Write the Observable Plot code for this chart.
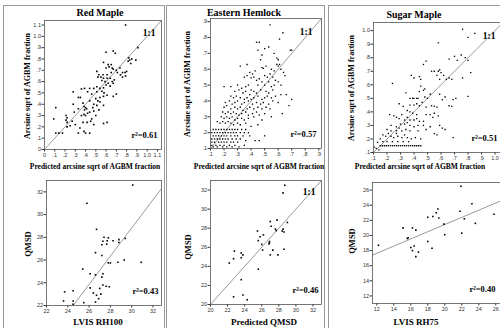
<!DOCTYPE html>
<html><head><meta charset="utf-8">
<script src="https://cdn.jsdelivr.net/npm/d3@7"></script>
<script src="https://cdn.jsdelivr.net/npm/@observablehq/plot@0.6"></script>
<style>
body{margin:0;background:#fff;}
#root{position:relative;width:500px;height:328px;overflow:hidden;background:#fff;font-family:"Liberation Serif","Times New Roman",serif;}
.frame{position:absolute;border:1px solid #999;border-bottom:none;}
.t{position:absolute;font-weight:bold;white-space:nowrap;color:#000;line-height:1;}
svg{position:absolute;overflow:visible;}
</style></head><body><div id="root"></div>
<script>
// ---------- data ----------
const redMaple = [[0.79,1.10],[0.91,0.90],[0.60,0.86],[0.67,0.87],[0.69,0.85],[0.82,0.81],[0.83,0.79],[0.85,0.80],[0.815,0.78],[0.89,0.79],[0.84,0.76],
[0.575,0.77],[0.62,0.75],[0.65,0.75],[0.63,0.73],[0.66,0.72],[0.60,0.72],
[0.51,0.69],[0.53,0.66],[0.57,0.66],[0.61,0.66],[0.65,0.68],[0.67,0.71],[0.70,0.70],[0.71,0.68],[0.735,0.72],[0.76,0.68],[0.785,0.68],[0.76,0.64],[0.74,0.66],[0.80,0.69],[0.79,0.65],
[0.52,0.64],[0.55,0.64],[0.575,0.63],[0.61,0.63],[0.64,0.63],[0.68,0.615],[0.66,0.60],[0.59,0.60],[0.56,0.61],
[0.48,0.54],[0.51,0.555],[0.54,0.54],[0.575,0.545],[0.62,0.585],[0.64,0.56],[0.67,0.585],[0.60,0.57],
[0.44,0.54],[0.42,0.51],[0.46,0.49],[0.51,0.51],[0.56,0.515],[0.61,0.48],[0.67,0.47],[0.70,0.49],[0.58,0.50],
[0.28,0.51],[0.36,0.535],[0.33,0.46],[0.35,0.46],[0.39,0.54],
[0.50,0.45],[0.54,0.46],[0.575,0.47],[0.52,0.43],
[0.375,0.41],[0.44,0.43],[0.48,0.40],[0.51,0.39],[0.54,0.42],[0.575,0.39],[0.47,0.37],
[0.385,0.38],[0.40,0.37],[0.41,0.36],[0.39,0.35],
[0.11,0.37],[0.33,0.36],[0.29,0.33],[0.36,0.30],[0.385,0.31],[0.40,0.30],[0.44,0.33],[0.48,0.34],[0.50,0.30],[0.42,0.32],
[0.21,0.30],[0.22,0.28],[0.28,0.40],
[0.27,0.25],[0.375,0.24],[0.415,0.24],[0.45,0.25],[0.48,0.22],[0.575,0.23],[0.61,0.24],
[0.09,0.27],[0.21,0.26],[0.22,0.24],[0.25,0.21],
[0.345,0.19],[0.385,0.16],[0.33,0.145],
[0.11,0.145],[0.14,0.145],[0.175,0.145],[0.40,0.145],[0.44,0.145],
[0.22,0.20],[0.30,0.22],[0.46,0.27],[0.53,0.35]];

const easternHemlock = [[0.54,0.88],[0.635,0.83],[0.61,0.79],[0.44,0.77],[0.46,0.77],[0.69,0.72],[0.70,0.72],[0.50,0.73],[0.53,0.74],[0.57,0.70],[0.45,0.72],[0.48,0.69],[0.47,0.66],[0.59,0.67],[0.60,0.66],
[0.60,0.62],[0.59,0.63],[0.61,0.63],[0.62,0.60],[0.37,0.63],[0.32,0.62],[0.48,0.61],[0.49,0.605],[0.51,0.62],[0.55,0.60],[0.57,0.59],[0.64,0.58],[0.65,0.56],
[0.39,0.58],[0.41,0.57],[0.43,0.59],[0.37,0.56],[0.40,0.545],[0.42,0.55],[0.35,0.55],[0.44,0.53],[0.46,0.54],[0.50,0.56],[0.52,0.55],[0.54,0.57],[0.56,0.55],[0.48,0.52],[0.53,0.52],[0.58,0.53],[0.60,0.52],
[0.20,0.49],[0.25,0.49],[0.30,0.50],[0.33,0.48],[0.36,0.49],[0.38,0.50],[0.45,0.50],[0.50,0.50],[0.55,0.49],[0.57,0.50],[0.62,0.50],
[0.28,0.46],[0.31,0.47],[0.34,0.45],[0.36,0.46],[0.39,0.44],[0.42,0.46],[0.44,0.45],[0.47,0.47],[0.51,0.46],[0.53,0.45],[0.56,0.47],[0.40,0.47],
[0.25,0.43],[0.27,0.42],[0.29,0.43],[0.32,0.42],[0.35,0.41],[0.37,0.42],[0.40,0.41],[0.42,0.42],[0.45,0.43],[0.48,0.41],[0.50,0.42],[0.52,0.43],[0.55,0.42],[0.58,0.43],[0.62,0.44],[0.66,0.44],
[0.21,0.39],[0.24,0.40],[0.26,0.38],[0.28,0.39],[0.30,0.40],[0.33,0.38],[0.35,0.39],[0.38,0.40],[0.41,0.38],[0.44,0.39],[0.47,0.38],[0.49,0.39],[0.53,0.38],[0.56,0.40],[0.60,0.39],
[0.20,0.36],[0.22,0.37],[0.25,0.35],[0.28,0.36],[0.30,0.35],[0.32,0.36],[0.34,0.34],[0.37,0.35],[0.39,0.36],[0.42,0.35],[0.45,0.36],[0.48,0.35],[0.51,0.36],[0.54,0.35],[0.70,0.41],[0.68,0.37],
[0.19,0.33],[0.21,0.32],[0.23,0.33],[0.25,0.32],[0.27,0.33],[0.29,0.32],[0.31,0.31],[0.33,0.32],[0.36,0.33],[0.38,0.31],[0.41,0.32],[0.44,0.33],[0.46,0.31],[0.50,0.32],[0.63,0.32],
[0.18,0.30],[0.20,0.29],[0.22,0.30],[0.24,0.29],[0.26,0.30],[0.28,0.28],[0.30,0.29],[0.33,0.29],[0.35,0.28],[0.38,0.29],[0.42,0.30],[0.55,0.30],[0.48,0.28],
[0.15,0.27],[0.17,0.26],[0.19,0.27],[0.21,0.26],[0.23,0.27],[0.25,0.26],[0.27,0.25],[0.30,0.26],[0.32,0.25],[0.36,0.26],[0.45,0.25],[0.40,0.24],
[0.12,0.22],[0.14,0.22],[0.16,0.22],[0.18,0.22],[0.20,0.22],[0.22,0.22],[0.24,0.22],[0.26,0.22],[0.28,0.22],[0.30,0.22],[0.33,0.22],[0.36,0.22],
[0.11,0.20],[0.13,0.20],[0.15,0.20],[0.17,0.20],[0.19,0.20],[0.21,0.20],[0.23,0.20],[0.25,0.20],[0.27,0.20],[0.29,0.20],[0.32,0.20],[0.35,0.20],[0.38,0.20],
[0.12,0.18],[0.14,0.18],[0.16,0.18],[0.18,0.18],[0.20,0.18],[0.22,0.18],[0.25,0.18],[0.28,0.18],[0.30,0.18],[0.34,0.18],[0.39,0.18],[0.50,0.18],
[0.11,0.16],[0.13,0.16],[0.15,0.16],[0.17,0.16],[0.19,0.16],[0.21,0.16],[0.23,0.16],[0.26,0.16],[0.29,0.16],[0.32,0.16],[0.36,0.15],[0.43,0.15],[0.46,0.15],
[0.11,0.14],[0.13,0.14],[0.16,0.14],[0.18,0.14],[0.20,0.14],[0.22,0.14],[0.25,0.14],[0.27,0.14],[0.30,0.14],
[0.11,0.12],[0.14,0.12],[0.17,0.12],[0.20,0.12],[0.24,0.12],[0.28,0.12],
[0.12,0.11],[0.15,0.11],[0.19,0.11],[0.22,0.11],[0.26,0.11],[0.31,0.11],[0.35,0.12]];

const sugarMaple = [[0.76,1.01],[0.85,0.98],[0.80,0.95],[0.58,0.91],[0.75,0.82],[0.70,0.81],[0.78,0.80],[0.80,0.78],[0.66,0.79],[0.72,0.78],
[0.47,0.75],[0.49,0.775],[0.44,0.66],[0.38,0.67],[0.40,0.65],[0.45,0.64],
[0.58,0.70],[0.59,0.71],[0.55,0.70],[0.60,0.69],[0.53,0.70],[0.62,0.67],[0.64,0.64],[0.66,0.65],[0.68,0.64],[0.59,0.64],[0.82,0.69],[0.76,0.65],[0.57,0.67],
[0.24,0.61],[0.45,0.59],[0.47,0.56],[0.48,0.57],[0.34,0.54],[0.37,0.50],[0.39,0.50],[0.40,0.50],[0.42,0.50],[0.43,0.50],[0.48,0.51],[0.50,0.50],[0.59,0.53],[0.80,0.515],[0.69,0.49],[0.71,0.50],[0.61,0.49],[0.63,0.51],[0.52,0.53],[0.44,0.55],
[0.29,0.46],[0.32,0.44],[0.37,0.45],[0.40,0.45],[0.42,0.46],[0.44,0.445],[0.49,0.435],[0.53,0.445],[0.55,0.44],[0.57,0.435],[0.68,0.44],[0.66,0.445],[0.46,0.47],
[0.35,0.41],[0.37,0.40],[0.39,0.39],[0.42,0.38],[0.22,0.38],[0.25,0.37],[0.29,0.35],[0.33,0.34],[0.37,0.34],[0.40,0.34],[0.44,0.33],[0.47,0.33],[0.49,0.38],[0.52,0.38],[0.55,0.39],[0.54,0.36],[0.58,0.37],[0.31,0.38],[0.27,0.36],[0.35,0.36],[0.42,0.35],
[0.23,0.30],[0.27,0.29],[0.30,0.31],[0.33,0.31],[0.37,0.30],[0.40,0.29],[0.43,0.30],[0.47,0.30],[0.52,0.29],[0.59,0.30],[0.35,0.32],
[0.20,0.27],[0.23,0.26],[0.27,0.26],[0.31,0.26],[0.34,0.27],[0.37,0.26],[0.43,0.26],[0.61,0.28],[0.63,0.27],[0.49,0.27],[0.29,0.28],
[0.15,0.20],[0.19,0.22],[0.23,0.22],[0.25,0.21],[0.28,0.22],[0.31,0.21],[0.35,0.21],[0.38,0.20],[0.41,0.21],[0.45,0.20],[0.55,0.24],[0.57,0.23],[0.69,0.21],[0.21,0.24],[0.27,0.24],[0.33,0.23],[0.17,0.23],
[0.13,0.175],[0.17,0.18],[0.20,0.18],[0.24,0.18],[0.28,0.18],[0.32,0.18],[0.36,0.18],
[0.15,0.15],[0.165,0.15],[0.18,0.15],[0.195,0.15],[0.21,0.15],[0.225,0.15],[0.24,0.15],[0.255,0.15],[0.27,0.15],[0.285,0.15],[0.30,0.15],[0.315,0.15],[0.33,0.15],[0.345,0.15],[0.36,0.15],[0.375,0.15],[0.39,0.15],[0.405,0.15],[0.42,0.15],[0.435,0.15],[0.45,0.15],
[0.105,0.14],[0.12,0.13],[0.14,0.12]];

const rh100 = [[30.1,32.6],[25.8,31.0],[26.7,28.7],[27.4,28.0],[27.8,27.95],[27.3,27.65],[27.7,27.7],[28.25,27.7],[28.8,27.8],[29.4,27.9],[28.8,27.55],[27.2,27.35],[27.65,27.4],[27.2,26.4],[26.6,26.65],[29.3,26.0],[30.9,25.8],[28.7,25.8],[27.8,25.75],[28.0,25.75],[25.4,25.2],[26.1,24.8],[26.6,24.7],[27.3,24.8],[27.2,24.5],[27.3,23.8],[27.6,23.7],[27.9,23.65],[27.0,23.5],[26.1,23.55],[24.5,23.3],[23.7,23.2],[26.4,23.1],[26.7,22.9],[27.1,23.0],[26.9,22.6],[23.6,22.4],[24.5,22.4],[24.5,22.1],[25.5,22.25],[26.6,22.3]];
const rh100Fit = [[24.5,22.0],[32.8,32.3]];

const predQmsd = [[28.7,32.5],[28.5,31.7],[29.0,28.6],[27.8,28.85],[27.0,28.7],[27.1,28.2],[27.6,27.9],[27.7,27.75],[28.5,27.9],[28.4,27.7],[28.6,27.6],[25.5,27.7],[26.2,27.3],[25.8,27.1],[25.6,26.7],[26.9,26.6],[26.85,26.35],[26.9,26.45],[26.0,26.3],[26.1,25.7],[27.3,25.7],[27.0,25.2],[27.9,25.2],[28.6,25.8],[22.8,25.6],[22.7,24.8],[23.6,25.4],[23.6,24.9],[23.8,25.2],[22.2,24.35],[25.6,23.7],[23.6,22.6],[23.8,21.0],[24.3,20.5],[22.7,20.8]];

const rh75 = [[12.2,18.7],[15.1,21.0],[16.2,21.0],[16.6,20.7],[15.7,19.7],[15.6,19.6],[16.0,18.4],[16.2,18.0],[16.4,18.6],[16.9,17.8],[16.6,17.2],[18.0,19.2],[18.5,18.3],[18.0,22.4],[18.6,22.5],[19.0,23.0],[19.2,23.5],[19.3,22.3],[20.0,20.1],[19.9,21.5],[21.9,26.5],[21.8,23.2],[23.2,24.2],[22.0,20.3],[22.3,22.2],[23.6,21.6],[25.8,22.8]];
const rh75Fit = [[11.5,17.4],[27.5,25.0]];

const redTicks = [0,0.1,0.2,0.3,0.4,0.5,0.6,0.7,0.8,0.9,1.0,1.1];
const hemlockTicks = [0.1,0.2,0.3,0.4,0.5,0.6,0.7,0.8,0.9];
const sugarTicks = [0.1,0.2,0.3,0.4,0.5,0.6,0.7,0.8,0.9,1.0];
const qmsdTicks22 = [22,24,26,28,30,32];
const qmsdTicks20 = [20,22,24,26,28,30,32];
const rh75Ticks = [12,14,16,18,20,22,24,26];

const titles = ["Red Maple","Eastern Hemlock","Sugar Maple"];
const r2Labels = ["r\u00B2=0.61","r\u00B2=0.57","r\u00B2=0.51","r\u00B2=0.43","r\u00B2=0.46","r\u00B2=0.40"];

// ---------- drawing ----------
const root = document.getElementById("root");
function frameBox(l, t, w, h){const d=document.createElement("div");d.className="frame";Object.assign(d.style,{left:l+"px",top:t+"px",width:w+"px",height:h+"px"});root.appendChild(d);}
function text(s, x, y, size, rot){const d=document.createElement("div");d.className="t";d.textContent=s;Object.assign(d.style,{left:x+"px",top:y+"px",fontSize:size+"px",transform:"translate(-50%,-50%)"+(rot?" rotate(-90deg)":"")});root.appendChild(d);}
const frac = d => d===0 ? "0" : (d<1 ? d3.format(".1f")(d).replace(/^0/,"") : d3.format(".1f")(d));
const intf = d => String(d);

function panel(o){
  const mL=16,mR=2,mT=2,mB=11;
  const width=(o.pr-o.pl)+mL+mR, height=(o.pb-o.pt)+mT+mB;
  const marks=[];
  if(o.diag) marks.push(Plot.line(o.diag,{x:d=>d,y:d=>d,stroke:"#808080",strokeWidth:0.8,clip:true}));
  if(o.fit) marks.push(Plot.line(o.fit,{x:d=>d[0],y:d=>d[1],stroke:"#808080",strokeWidth:0.8,clip:true}));
  marks.push(Plot.dot(o.pts,{x:d=>d[0],y:d=>d[1],r:o.r||0.9,fill:"#000",stroke:null,symbol:"square"}));
  marks.push(Plot.frame({stroke:"#555",strokeWidth:0.8}));
  if(o.diag) marks.push(Plot.text(["1:1"],{frameAnchor:"top-right",dx:-o.oneDx,dy:o.oneDy,textAnchor:"end",fontFamily:"Liberation Serif",fontWeight:"bold",fontSize:9.5,fill:"#000"}));
  marks.push(Plot.text([o.r2],{frameAnchor:"bottom-right",dx:-o.r2Dx,dy:-12,textAnchor:"end",fontFamily:"Liberation Serif",fontWeight:"bold",fontSize:8.5,fill:"#000"}));
  const svg=Plot.plot({width,height,marginLeft:mL,marginRight:mR,marginTop:mT,marginBottom:mB,
    style:{fontFamily:"'Liberation Sans',Arial,sans-serif",fontSize:"5.5px",background:"transparent",color:"#333",overflow:"visible"},
    x:{domain:o.xd,ticks:o.xt,tickFormat:o.fmt,tickSize:2.5,tickPadding:1,label:null},
    y:{domain:o.yd,ticks:o.yt,tickFormat:o.fmt,tickSize:2.5,tickPadding:1,label:null},
    marks});
  svg.style.left=(o.pl-mL)+"px"; svg.style.top=(o.pt-mT)+"px";
  root.appendChild(svg);
}

// frames
frameBox(3,5,160,330);
frameBox(166,5,157,330);
frameBox(328,5,180,330);

// top row
panel({pl:44,pt:20,pr:161,pb:149,xd:[0,1.14],yd:[0,1.14],xt:redTicks,yt:redTicks,fmt:frac,pts:redMaple,diag:[0,1.14],oneDx:6,oneDy:9,r2:r2Labels[0],r2Dx:4});
panel({pl:210,pt:18,pr:321,pb:148,xd:[0.1,0.92],yd:[0.1,0.92],xt:hemlockTicks,yt:hemlockTicks,fmt:frac,pts:easternHemlock,diag:[0.1,0.92],oneDx:9,oneDy:10,r2:r2Labels[1],r2Dx:5,r:0.75});
panel({pl:373,pt:22,pr:508,pb:152,xd:[0.1,1.1],yd:[0.1,1.06],xt:sugarTicks,yt:sugarTicks,fmt:frac,pts:sugarMaple,diag:[0.1,1.06],oneDx:13,oneDy:10,r2:r2Labels[2],r2Dx:11,r:0.75});
// bottom row
panel({pl:46,pt:180,pr:161,pb:305,xd:[22,32.8],yd:[22,33.0],xt:qmsdTicks22,yt:qmsdTicks22,fmt:intf,pts:rh100,fit:rh100Fit,r2:r2Labels[3],r2Dx:3});
panel({pl:210,pt:180,pr:321,pb:304,xd:[20,33],yd:[20,33],xt:qmsdTicks20,yt:qmsdTicks20,fmt:intf,pts:predQmsd,diag:[20,33],oneDx:6,oneDy:8,r2:r2Labels[4],r2Dx:3});
panel({pl:372,pt:182,pr:508,pb:303,xd:[11.5,27.5],yd:[11,27],xt:rh75Ticks,yt:rh75Ticks,fmt:intf,pts:rh75,fit:rh75Fit,r2:r2Labels[5],r2Dx:13});

// titles and axis titles
text(titles[0],100,13,10);
text(titles[1],244,13,10);
text(titles[2],414,15,10);
text("Arcsine sqrt of AGBM fraction",28,86,8,true);
text("Arcsine sqrt of AGBM fraction",188,84,8,true);
text("Arcsine sqrt of AGBM fraction",352,88,8,true);
text("Predicted arcsine sqrt of AGBM fraction",95,167,7.5);
text("Predicted arcsine sqrt of AGBM fraction",259,167,7.5);
text("Predicted arcsine sqrt of AGBM fraction",420,167,7.5);
text("QMSD",28,244,8.5,true);
text("QMSD",188,247,8.5,true);
text("QMSD",352,241,8.5,true);
text("LVIS RH100",98,322,9);
text("Predicted QMSD",264,322,9);
text("LVIS RH75",416,322,9);
</script></body></html>
